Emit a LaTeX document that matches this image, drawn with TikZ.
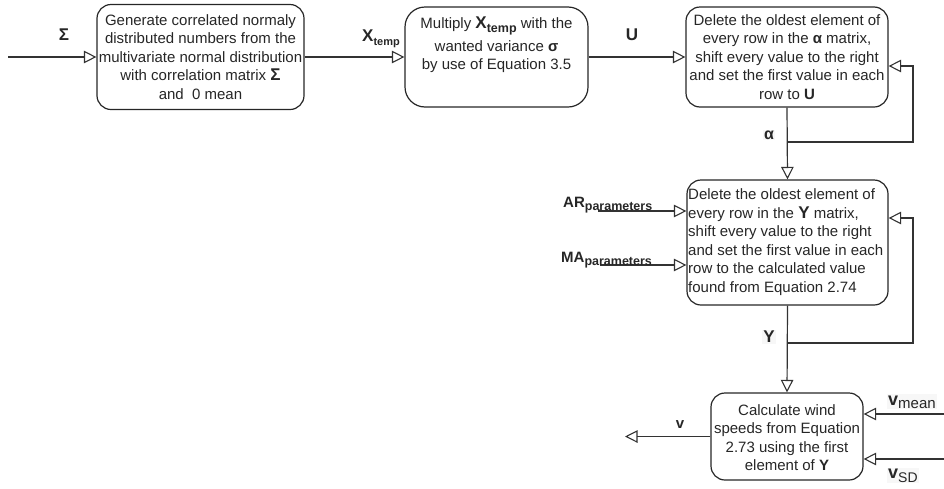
\documentclass[tikz,border=0pt]{standalone}
\usepackage{fontspec}
\setmainfont{Liberation Sans}
\usetikzlibrary{arrows.meta}
\begin{document}
\begin{tikzpicture}[x=1pt, y=-1pt,
  box/.style={draw=black!85, line width=1.2pt, rounded corners=14pt, inner sep=0pt},
  txt/.style={inner sep=0pt, font=\fontsize{15}{18.5}\selectfont, text=black!85},
  lbl/.style={inner sep=1pt, text=black!85},
  wire/.style={draw=black!80, line width=1.2pt},
  arr/.style={wire, -{Triangle[open, length=12.5pt, width=12.5pt, line width=1.1pt]}},
]
\useasboundingbox (0,0) rectangle (944,488);

% process boxes
\node[box, minimum width=207pt, minimum height=105pt] (b1) at (200.5,57) {};
\node[box, rounded corners=20pt, minimum width=183pt, minimum height=100pt] (b2) at (496.5,57) {};
\node[box, minimum width=202pt, minimum height=100pt] (b3) at (787,57) {};
\node[box, minimum width=201pt, minimum height=125pt] (b4) at (787.5,242.5) {};
\node[box, minimum width=152pt, minimum height=87pt]  (b5) at (787,436.5) {};

% box texts
\node[txt, align=center] (t1) at (b1.center) {Generate correlated normaly\\
distributed numbers from the\\
multivariate normal distribution\\
with correlation matrix {\bfseries\fontsize{17}{18.5}\selectfont Σ}\\
and\ \ 0 mean};

\node[txt, align=center, anchor=north] (t2) at (496.5,17) {Multiply {\bfseries\fontsize{17}{18.5}\selectfont X\raisebox{-3.5pt}{\fontsize{12.5}{12.5}\selectfont temp}} with the\\[4pt]
wanted variance \textbf{σ}\\
by use of Equation 3.5};

\node[txt, align=center] (t3) at (b3.center) {Delete the oldest element of\\
every row in the \textbf{α} matrix,\\
shift every value to the right\\
and set the first value in each\\
row to \textbf{U}};

\node[txt, align=left, anchor=west] (t4) at (688,242) {Delete the oldest element of\\
every row in the {\bfseries\fontsize{17}{18.5}\selectfont Y} matrix,\\
shift every value to the right\\
and set the first value in each\\
row to the calculated value\\
found from Equation 2.74};

\node[txt, align=center] (t5) at (787,437.5) {Calculate wind\\
speeds from Equation\\
2.73 using the first\\
element of \textbf{Y}};

% free ends and bends of the connectors
\coordinate (in)  at (8,57);
\coordinate (br1) at (787,142);
\coordinate (r1)  at (913,142);
\coordinate (u1)  at (913,66);
\coordinate (br2) at (787,343);
\coordinate (r2)  at (913,343);
\coordinate (u2)  at (913,218);
\coordinate (ar)  at (598,211);
\coordinate (ma)  at (600,265);
\coordinate (out) at (625,436.5);
\coordinate (vm)  at (944,414);
\coordinate (vs)  at (944,459);

% connectors
\draw[arr] (in) -- (b1.west);
\draw[arr] (b1.east) -- (b2.west);
\draw[arr] (b2.east) -- (b3.west);
\draw[arr] (b3.south) -- (b4.north);
\draw[arr] (br1) -- (r1) -- (u1) -- (u1 -| b3.east);
\draw[arr] (ar) -- (ar -| b4.west);
\draw[arr] (ma) -- (ma -| b4.west);
\draw[arr] (b4.south) -- (b5.north);
\draw[arr] (br2) -- (r2) -- (u2) -- (u2 -| b4.east);
\draw[arr] (b5.west) -- (out);
\draw[arr] (vm) -- (vm -| b5.east);
\draw[arr] (vs) -- (vs -| b5.east);

% connector labels
\node[lbl] (lsig) at (64,35) {\bfseries\fontsize{17}{17}\selectfont Σ};
\node[lbl, anchor=base west, inner sep=0pt] (lxt) at (362,41) {\bfseries\fontsize{17}{17}\selectfont X\raisebox{-4pt}{\fontsize{11}{11}\selectfont temp}};
\node[lbl] (lu) at (632,35) {\bfseries\fontsize{17}{17}\selectfont U};
\node[lbl, fill=black!3] (lal) at (769,135) {\bfseries\fontsize{16}{16}\selectfont α};
\node[lbl, anchor=base west, inner sep=0pt] (lar) at (563,207.5) {\bfseries\fontsize{15}{15}\selectfont AR\raisebox{-3pt}{\fontsize{12.5}{12.5}\selectfont parameters}};
\node[lbl, anchor=base west, inner sep=0pt] (lma) at (561,262.5) {\bfseries\fontsize{15}{15}\selectfont MA\raisebox{-3pt}{\fontsize{12.5}{12.5}\selectfont parameters}};
\node[lbl, fill=black!3] (ly) at (769,337) {\bfseries\fontsize{17}{17}\selectfont Y};
\node[lbl] (lv) at (680,425) {\bfseries\fontsize{15}{15}\selectfont v};
\node[lbl, anchor=base west, fill=black!3] (lvm) at (887,405) {{\bfseries\fontsize{18}{18}\selectfont v}\raisebox{-3pt}{\fontsize{15}{15}\selectfont mean}};
\node[lbl, anchor=base west, fill=black!3] (lvs) at (887,478) {{\bfseries\fontsize{18}{18}\selectfont v}\raisebox{-4pt}{\fontsize{14}{14}\selectfont SD}};
\end{tikzpicture}
\end{document}
